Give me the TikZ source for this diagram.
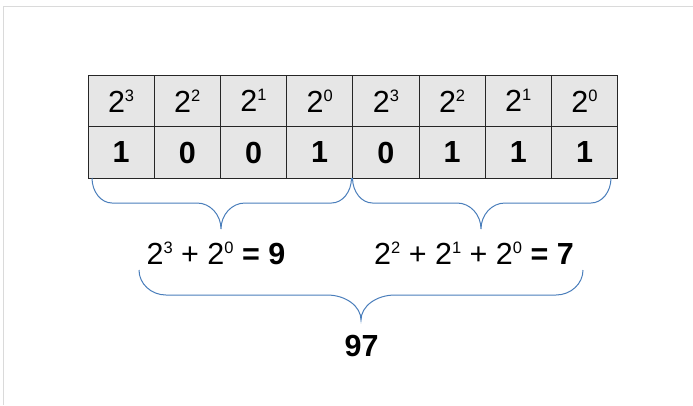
\documentclass[tikz,border=0pt]{standalone}
\usepackage{fontspec}
\setmainfont{Liberation Sans}
\definecolor{bracecol}{HTML}{4A7EBB}
\definecolor{cellfill}{HTML}{E6E6E6}
\definecolor{framecol}{HTML}{DADADA}
\newcommand\pw[1]{\raisebox{11pt}{\fontsize{16.5}{17}\selectfont\mdseries #1}}
% x1, x2, xm, ytop, yh, ytip, rend, rmid
\newcommand\mybrace[8]{%
  \draw[bracestyle] (#1,#4) .. controls (#1,{#4+0.55*(#5-#4)}) and ({#1+#7*0.45},#5) .. ({#1+#7},#5)
    -- ({#3-#8},#5) .. controls ({#3-#8*0.45},#5) and (#3,{#6-0.55*(#6-#5)}) .. (#3,#6)
    .. controls (#3,{#6-0.55*(#6-#5)}) and ({#3+#8*0.45},#5) .. ({#3+#8},#5)
    -- ({#2-#7},#5) .. controls ({#2-#7*0.45},#5) and (#2,{#4+0.55*(#5-#4)}) .. (#2,#4);}
\begin{document}
\begin{tikzpicture}[x=1pt,y=-1pt,
  cell/.style={draw=black!85, line width=1pt, fill=cellfill, minimum width=66.2pt,
    minimum height=51.5pt, inner sep=0pt, font=\fontsize{30.5}{32}\selectfont},
  eq/.style={anchor=base, inner sep=0pt, font=\fontsize{30.5}{32}\selectfont},
  bracestyle/.style={draw=bracecol, line width=1pt}]
\useasboundingbox (0,0) rectangle (693,405);
\draw[framecol, line width=1.5pt] (3.5,405) -- (3.5,6.5) -- (693,6.5);
\foreach \i/\e/\b in {0/3/1,1/2/0,2/1/0,3/0/1,4/3/0,5/2/1,6/1/1,7/0/1} {
  \node[cell] (t\i) at ({88+66.2*\i+33.1},100.75) {2\pw{\e}};
  \node[cell] (b\i) at ({88+66.2*\i+33.1},152.5) {\bfseries \b};
}
\mybrace{92}{351.5}{221}{178}{203}{229}{20}{24}
\mybrace{352.5}{611}{481}{178}{203}{229}{20}{24}
\mybrace{139}{583}{361}{270}{295}{320}{27}{34}
\node[eq] (eqa) at (216,264) {2\pw{3} + 2\pw{0} \textbf{= 9}};
\node[eq] (eqb) at (474,264) {2\pw{2} + 2\pw{1} + 2\pw{0} \textbf{= 7}};
\node[eq] (tot) at (361.5,356) {\textbf{97}};
\end{tikzpicture}
\end{document}
